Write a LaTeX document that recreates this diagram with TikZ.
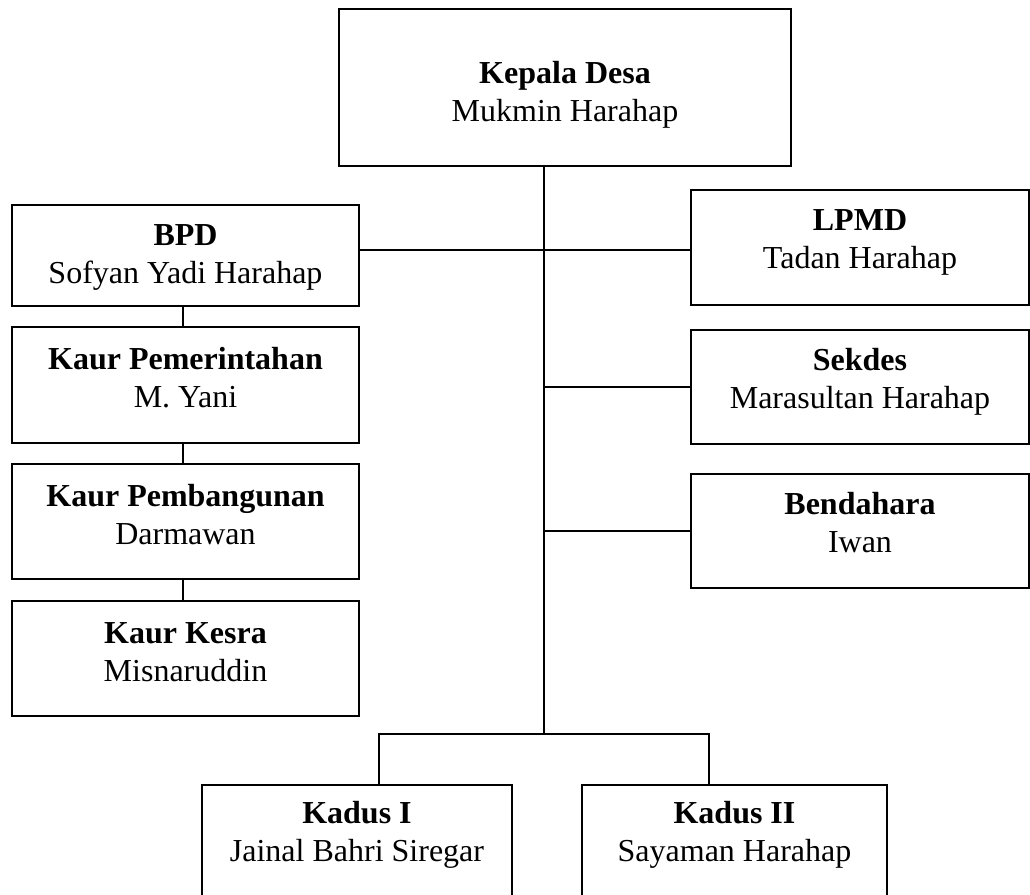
\documentclass[tikz,border=0pt]{standalone}
\usepackage{fontspec}
\setmainfont{Liberation Serif}

\begin{document}
\begin{tikzpicture}[x=0.5pt, y=-0.5pt,
    kotak/.style 2 args={draw, line width=1pt, minimum width=#1*0.5pt, minimum height=#2*0.5pt, inner sep=0pt},
    isi/.style={anchor=north, align=center, inner sep=0pt, yshift=#1, font=\fontsize{16}{19}\selectfont},
    isi/.default=-10pt,
    garis/.style={line width=1pt}]
  % Frame
  \useasboundingbox (0,0) rectangle (1030,895);
  \clip (0,0) rectangle (1030,895);

  % Kepala Desa
  \node[kotak={452}{157}, label={[isi=-26.5pt]north:{\textbf{Kepala Desa}\\Mukmin Harahap}}] (kades) at (565,87.5) {};

  % Left column
  \node[kotak={347}{101}, label={[isi]north:{\textbf{BPD}\\Sofyan Yadi Harahap}}] (bpd) at (185.5,255.5) {};
  \node[kotak={347}{116}, label={[isi=-10.5pt]north:{\textbf{Kaur Pemerintahan}\\M. Yani}}] (kaurpem) at (185.5,385) {};
  \node[kotak={347}{115}, label={[isi=-10.5pt]north:{\textbf{Kaur Pembangunan}\\Darmawan}}] (kaurbang) at (185.5,521.5) {};
  \node[kotak={347}{115}, label={[isi=-11pt]north:{\textbf{Kaur Kesra}\\Misnaruddin}}] (kaurkesra) at (185.5,658.5) {};

  % Right column
  \node[kotak={338}{115}, label={[isi]north:{\textbf{LPMD}\\Tadan Harahap}}] (lpmd) at (860,247.5) {};
  \node[kotak={338}{114}, label={[isi=-9.5pt]north:{\textbf{Sekdes}\\Marasultan Harahap}}] (sekdes) at (860,387) {};
  \node[kotak={338}{114}, label={[isi=-9.5pt]north:{\textbf{Bendahara}\\Iwan}}] (bendahara) at (860,531) {};

  % Kadus
  \node[kotak={310}{120}, label={[isi=-8.5pt]north:{\textbf{Kadus I}\\Jainal Bahri Siregar}}] (kadus1) at (357,845) {};
  \node[kotak={305}{120}, label={[isi=-8.5pt]north:{\textbf{Kadus II}\\Sayaman Harahap}}] (kadus2) at (734.5,845) {};

  % Lines
  \coordinate (simpul) at (544,734);
  \coordinate (cabang1) at (379,734);
  \coordinate (cabang2) at (709,734);
  \draw[garis] (kades.south -| simpul) -- (simpul);
  \draw[garis] ([yshift=-1.25pt]bpd.east |- lpmd.west) -- ([yshift=-1.25pt]lpmd.west);
  \draw[garis] (sekdes.west -| simpul) -- (sekdes.west);
  \draw[garis] (bendahara.west -| simpul) -- (bendahara.west);
  \draw[garis] ([xshift=-1.25pt]bpd.south) -- ([xshift=-1.25pt]kaurpem.north);
  \draw[garis] ([xshift=-1.25pt]kaurpem.south) -- ([xshift=-1.25pt]kaurbang.north);
  \draw[garis] ([xshift=-1.25pt]kaurbang.south) -- ([xshift=-1.25pt]kaurkesra.north);
  \draw[garis] (kadus1.north -| cabang1) -- (cabang1) -- (cabang2) -- (kadus2.north -| cabang2);
\end{tikzpicture}
\end{document}
